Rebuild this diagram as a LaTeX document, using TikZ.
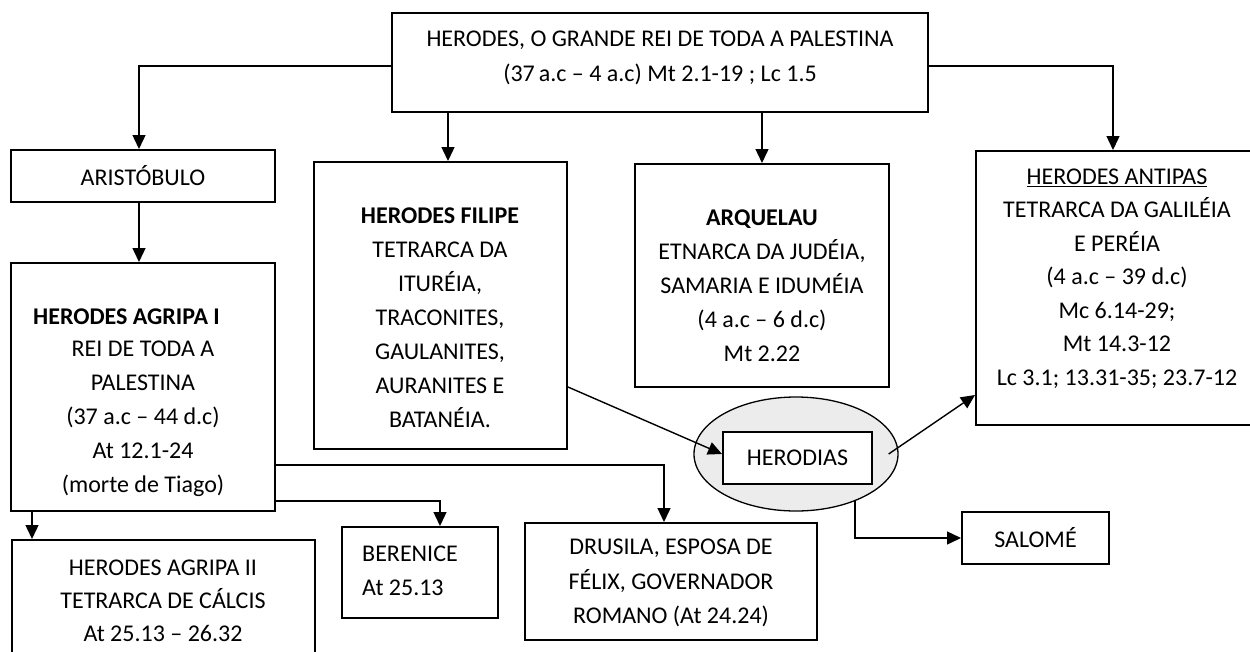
\documentclass[tikz,border=0pt]{standalone}
\usepackage{fontspec}
\setmainfont{Carlito}
\usetikzlibrary{arrows.meta,calc,shapes.geometric}
\newcommand\fsz{\fontsize{24}{34}\selectfont}
\begin{document}
\begin{tikzpicture}[x=1pt,y=-1pt,
  box/.style={draw, line width=2pt, inner sep=0pt, fill=white, font=\fsz},
  txt/.style={align=center, inner sep=0pt, font=\fsz},
  arr/.style={line width=1.4pt, -{Triangle[length=14pt,width=13pt]}}]
\useasboundingbox (0,0) rectangle (1250,651);
\clip (0,0) rectangle (1250,651);
% boxes
\node[box, minimum width=536pt, minimum height=99pt] (top) at (660,62.5) {};
\node[box, minimum width=264pt, minimum height=52pt] (arist) at (143,176) {ARISTÓBULO};
\node[box, minimum width=264pt, minimum height=248pt] (agr1) at (143,387) {};
\node[box, minimum width=253pt, minimum height=287pt] (fil) at (440.5,305.5) {};
\node[box, minimum width=254pt, minimum height=223pt] (arq) at (762,275.5) {};
\node[box, minimum width=300pt, minimum height=274pt] (ant) at (1126,288) {};
\node[draw, line width=1.3pt, fill=gray!15, ellipse, minimum width=204pt, minimum height=114pt, inner sep=0pt] (ell) at (796,454) {};
\node[box, minimum width=149pt, minimum height=52pt] (her) at (797.5,458) {HERODIAS};
\node[box, minimum width=147pt, minimum height=52pt] (sal) at (1035.5,538) {SALOMÉ};
\node[box, minimum width=292pt, minimum height=117pt] (dru) at (671,581.5) {};
\node[box, minimum width=156pt, minimum height=91pt] (ber) at (420,572.5) {};
\node[box, minimum width=303pt, minimum height=140pt] (agr2) at (163.5,610) {};
% texts
\node[txt] (tTop) at (660,58) {HERODES, O GRANDE REI DE TODA A PALESTINA\\[1pt](37\,a.c – 4 a.c) Mt 2.1-19 ; Lc 1.5};
\node[txt, anchor=west] (tAgr1a) at (33,317) {\textbf{HERODES AGRIPA I}};
\node[txt] (tAgr1b) at (143,419) {REI DE TODA A\\PALESTINA\\(37 a.c – 44 d.c)\\At 12.1-24\\(morte de Tiago)};
\node[txt] (tFil) at (440,318) {\textbf{HERODES FILIPE}\\TETRARCA DA\\ITURÉIA,\\TRACONITES,\\GAULANITES,\\AURANITES E\\BATANÉIA.};
\node[txt] (tArq) at (762,286) {\textbf{ARQUELAU}\\ETNARCA DA JUDÉIA,\\SAMARIA E IDUMÉIA\\(4 a.c – 6 d.c)\\Mt 2.22};
\node[txt, font=\fontsize{24}{33.5}\selectfont] (tAnt) at (1117,278.5) {\underline{HERODES ANTIPAS}\\TETRARCA DA GALILÉIA\\E PERÉIA\\(4 a.c – 39 d.c)\\Mc 6.14-29;\\Mt 14.3-12\\Lc 3.1; 13.31-35; 23.7-12};
\node[txt, font=\fontsize{24}{34.5}\selectfont] (tDru) at (671,583) {DRUSILA, ESPOSA DE\\FÉLIX, GOVERNADOR\\ROMANO (At 24.24)};
\node[txt, anchor=west, align=left] (tBer) at (362,571) {BERENICE\\At 25.13};
\node[txt, font=\fontsize{24}{33}\selectfont] (tAgr2) at (163,601) {HERODES AGRIPA II\\TETRARCA DE CÁLCIS\\At 25.13 – 26.32};
% connectors
\draw[arr] (top.west |- 0,66) -| (arist.north -| 139,0);
\draw[arr] (arist.south -| 139,0) -- (agr1.north -| 139,0);
\draw[arr] (top.south -| 448,0) -- (fil.north -| 448,0);
\draw[arr] (top.south -| 762,0) -- (arq.north);
\draw[arr] (top.east |- 0,66) -| (ant.north -| 1113,0);
\draw[arr] (fil.east |- 0,387) -- (her.west |- 0,454);
\draw[arr] ($(ell.east)+(-10,0)$) -- (ant.west |- 0,395);
\draw[arr] ($(ell.center)+(59,47)$) |- (sal.west);
\draw[arr] (agr1.east |- 0,465) -| (dru.north -| 664,0);
\draw[arr] (agr1.east |- 0,501) -| (ber.north -| 440,0);
\draw[arr] (agr1.south -| 32,0) -- (agr2.north -| 32,0);
\end{tikzpicture}
\end{document}
